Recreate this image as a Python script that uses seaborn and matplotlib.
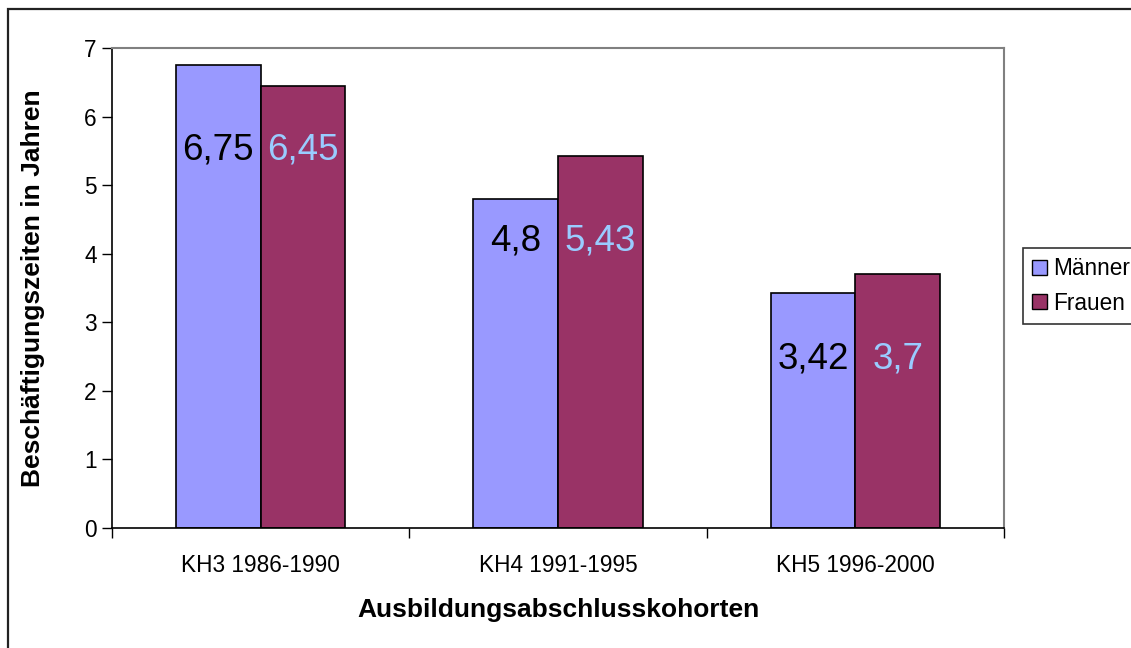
import matplotlib
matplotlib.use("Agg")
import matplotlib.pyplot as plt
import seaborn as sns
import pandas as pd
from matplotlib.patches import Rectangle

categories = ["KH3 1986-1990", "KH4 1991-1995", "KH5 1996-2000"]
maenner = [6.75, 4.8, 3.42]
frauen = [6.45, 5.43, 3.7]
series_names = ["Männer", "Frauen"]
maenner_labels = ["6,75", "4,8", "3,42"]
frauen_labels = ["6,45", "5,43", "3,7"]
y_ticks = [0, 1, 2, 3, 4, 5, 6, 7]

sns.set_theme(style="white")
plt.rcParams['font.family'] = ['Liberation Sans', 'DejaVu Sans']
plt.rcParams.update({"text.color": "black", "axes.labelcolor": "black",
                     "xtick.color": "black", "ytick.color": "black"})

df = pd.DataFrame({
    "Kohorte": categories * 2,
    "Wert": maenner + frauen,
    "Geschlecht": [series_names[0]] * 3 + [series_names[1]] * 3,
})

fig = plt.figure(figsize=(11.31, 6.48), dpi=100)
ax = fig.add_axes([112/1131, 1 - 528/648, (1004 - 112)/1131, (528 - 48)/648])

palette = {"Männer": "#9999FF", "Frauen": "#993366"}
sns.barplot(data=df, x="Kohorte", y="Wert", hue="Geschlecht", palette=palette,
            width=0.57, edgecolor="black", linewidth=1.2, saturation=1,
            ax=ax, legend=True)

ax.set_xlim(-0.5, 2.5)
ax.set_ylim(0, 7)
ax.set_yticks(y_ticks)
ax.set_yticklabels([str(t) for t in y_ticks], fontsize=16.3)
ax.set_xticks(range(len(categories)))
ax.set_xticklabels(categories, fontsize=16.3)
ax.set_xticks([-0.5, 0.5, 1.5, 2.5], minor=True)
ax.tick_params(axis="x", which="major", length=0, pad=19)
ax.tick_params(axis="x", which="minor", length=7, width=1, color="black", direction="out", bottom=True)
ax.tick_params(axis="y", length=7, width=1, color="black", direction="out", left=True, pad=4)
ax.set_xlabel("Ausbildungsabschlusskohorten", fontsize=19, fontweight="bold", labelpad=15)
ax.set_ylabel("Beschäftigungszeiten in Jahren", fontsize=19, fontweight="bold", labelpad=28)

for side in ["left", "bottom"]:
    ax.spines[side].set_color("black")
    ax.spines[side].set_linewidth(1.2)
for side in ["top", "right"]:
    ax.spines[side].set_color("#808080")
    ax.spines[side].set_linewidth(1.5)
    ax.spines[side].set_visible(True)

# value labels
label_sets = [(maenner_labels, "black"), (frauen_labels, "#99CCFF")]
for container, (labels, col) in zip(ax.containers, label_sets):
    for i, (bar, lab) in enumerate(zip(container, labels)):
        group_max = max(maenner[i], frauen[i])
        y = group_max - 1.24
        ax.text(bar.get_x() + bar.get_width() / 2, y, lab, ha="center", va="center",
                fontsize=26.5, color=col)

leg = ax.legend(loc="center left", bbox_to_anchor=(1023/1131, 1 - 286/648),
                bbox_transform=fig.transFigure, fontsize=16.3, frameon=True,
                handlelength=0.65, handleheight=0.65, handletextpad=0.3,
                borderpad=0.4, labelspacing=0.5, fancybox=False,
                borderaxespad=0)
leg.get_frame().set_edgecolor("black")
leg.get_frame().set_linewidth(1.2)
for h in leg.legend_handles:
    h.set_edgecolor("black")
    h.set_linewidth(1)

border = Rectangle((8/1131, -0.1), 1.2, (648 - 9)/648 + 0.1, transform=fig.transFigure,
                   fill=False, edgecolor="#222222", linewidth=1.6)
fig.patches.append(border)

fig.savefig("out.png", dpi=100)
